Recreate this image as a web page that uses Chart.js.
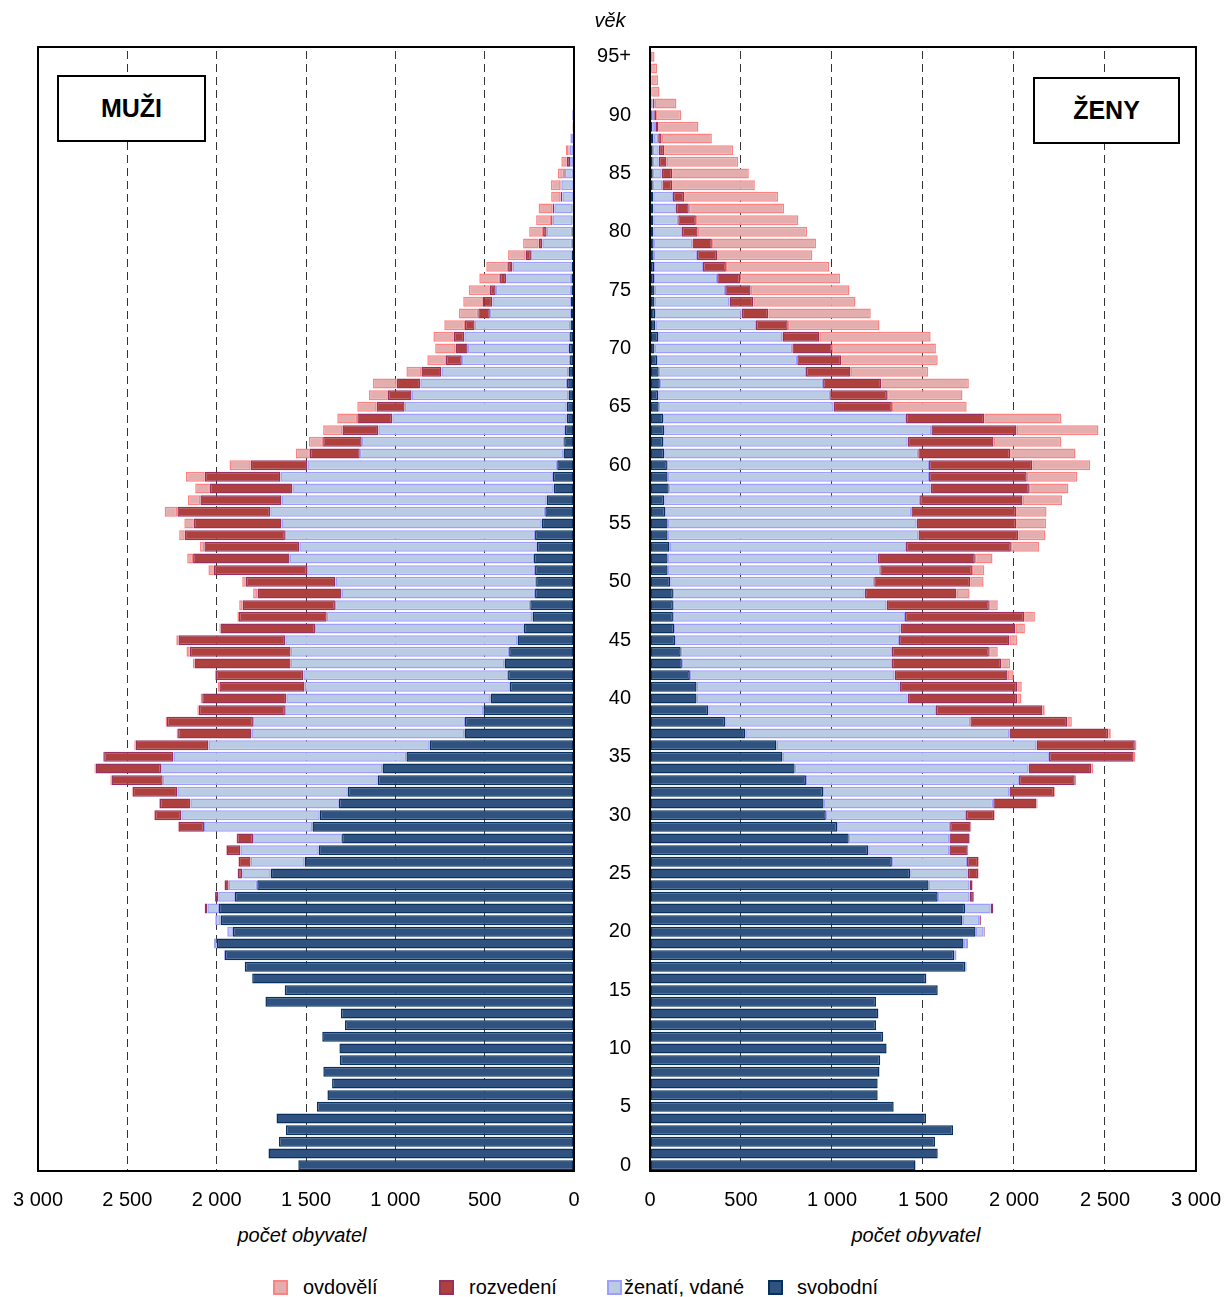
<!DOCTYPE html>
<html lang="cs">
<head>
<meta charset="utf-8">
<title>Obyvatelstvo podle věku a rodinného stavu</title>
<script src="https://cdn.jsdelivr.net/npm/chart.js@4.4.1/dist/chart.umd.min.js"></script>
<style>
  html, body { margin: 0; padding: 0; background: #fff; }
  #page { position: relative; width: 1227px; height: 1297px; overflow: hidden;
          font-family: "Liberation Sans", Arial, sans-serif; color: #000; }
  canvas { position: absolute; top: 0; }
  #leftChart { left: 0; }
  #rightChart { left: 575px; }
  .box { position: absolute; border: 2px solid #000; box-sizing: border-box; background: #fff;
         font-weight: bold; font-size: 25px; display: flex; align-items: center; justify-content: center; }
  .axisTitle { position: absolute; font-style: italic; font-size: 20px; text-align: center; }
  .legendItem { position: absolute; top: 1275px; font-size: 20px; line-height: 24px; white-space: nowrap; }
  .swatch { position: absolute; top: 1280px; width: 15px; height: 15px; box-sizing: border-box; border: 2px solid; }
</style>
</head>
<body>
<div id="page">
  <canvas id="leftChart" width="600" height="1216"></canvas>
  <canvas id="rightChart" width="663" height="1216"></canvas>

  <div class="box" style="left:57px; top:75px; width:149px; height:67px;">MUŽI</div>
  <div class="box" style="left:1033px; top:77px; width:147px; height:67px;">ŽENY</div>

  <div class="axisTitle" style="left:580px; top:9px; width:60px;">věk</div>
  <div class="axisTitle" style="left:202px; top:1224px; width:200px;">počet obyvatel</div>
  <div class="axisTitle" style="left:816px; top:1224px; width:200px;">počet obyvatel</div>

  <div class="swatch" style="left:273px; background:#E4AEAE; border-color:#FF8282;"></div>
  <div class="legendItem" style="left:303px;">ovdovělí</div>
  <div class="swatch" style="left:439px; background:#AE403D; border-color:#953060;"></div>
  <div class="legendItem" style="left:469px;">rozvedení</div>
  <div class="swatch" style="left:607px; background:#B9CCE4; border-color:#9E9EFF;"></div>
  <div class="legendItem" style="left:624px;">ženatí, vdané</div>
  <div class="swatch" style="left:768px; background:#2F5280; border-color:#08305E;"></div>
  <div class="legendItem" style="left:797px;">svobodní</div>
</div>

<script>
// age categories 0 .. 94, 95+
const ageLabels = Array.from({ length: 96 }, (_, i) => (i === 95 ? '95+' : String(i)));
const xTicks = [0, 500, 1000, 1500, 2000, 2500, 3000];

// MUŽI (index = age)
const muziSvobodni = [
  1543, 1710, 1651, 1612, 1665, 1439, 1380, 1354, 1403, 1311,
  1313, 1409, 1282, 1305, 1727, 1619, 1801, 1842, 1954, 2000,
  1909, 1978, 1987, 1898, 1773, 1698, 1508, 1429, 1298, 1464,
  1423, 1316, 1266, 1098, 1072, 938, 808, 613, 610, 507,
  467, 359, 369, 389, 363, 316, 281, 232, 245, 218,
  212, 218, 224, 208, 218, 181, 161, 153, 114, 118,
  94, 59, 55, 51, 41, 41, 31, 39, 31, 22,
  29, 22, 20, 17, 17, 15, 15, 12, 12, 10,
  10, 8, 8, 6, 6, 5, 4, 3, 3, 2,
  2, 0, 0, 0, 0, 0
];
const muziZenati = [
  0, 0, 0, 0, 0, 0, 0, 0, 0, 0,
  0, 0, 0, 0, 0, 0, 0, 2, 5, 15,
  31, 27, 65, 93, 160, 159, 302, 438, 498, 607,
  775, 831, 954, 1204, 1239, 1304, 1238, 1192, 1187, 1111,
  1143, 1149, 1146, 1197, 1223, 1300, 1168, 1152, 1093, 1083,
  1123, 1276, 1368, 1329, 1400, 1456, 1539, 1484, 1462, 1525,
  1398, 1140, 1133, 1044, 976, 907, 878, 821, 711, 606,
  566, 592, 536, 454, 440, 423, 364, 332, 229, 167,
  143, 112, 102, 59, 65, 46, 18, 22, 17, 2,
  8, 0, 0, 0, 0, 0
];
const muziRozvedeni = [
  0, 0, 0, 0, 0, 0, 0, 0, 0, 0,
  0, 0, 0, 0, 0, 0, 0, 0, 0, 0,
  2, 3, 15, 18, 23, 25, 67, 78, 90, 143,
  147, 171, 250, 287, 367, 388, 408, 411, 481, 482,
  471, 477, 489, 538, 565, 598, 530, 491, 517, 470,
  502, 522, 540, 532, 561, 491, 520, 454, 462, 424,
  318, 279, 216, 201, 196, 157, 133, 133, 112, 89,
  68, 59, 54, 65, 53, 33, 35, 25, 30, 21,
  20, 8, 10, 10, 4, 4, 19, 5, 0, 4,
  0, 0, 0, 0, 0, 0
];
const muziOvdoveli = [
  0, 0, 0, 0, 0, 0, 0, 0, 0, 0,
  0, 0, 0, 0, 0, 0, 0, 0, 0, 0,
  0, 0, 0, 1, 1, 2, 3, 3, 3, 4,
  5, 5, 5, 6, 6, 6, 7, 8, 8, 8,
  9, 9, 6, 10, 18, 12, 6, 9, 19, 25,
  20, 30, 33, 24, 31, 53, 71, 70, 82, 105,
  118, 79, 80, 108, 112, 108, 106, 132, 84, 104,
  114, 114, 116, 108, 110, 118, 116, 122, 98, 87,
  78, 84, 78, 53, 55, 35, 30, 15, 2, 0,
  0, 0, 0, 0, 0, 0
];

// ŽENY (index = age)
const zenySvobodne = [
  1459, 1581, 1566, 1665, 1517, 1339, 1251, 1251, 1261, 1265,
  1300, 1281, 1242, 1255, 1242, 1581, 1517, 1732, 1672, 1723,
  1789, 1717, 1732, 1581, 1531, 1430, 1329, 1199, 1092, 1028,
  966, 954, 951, 857, 795, 728, 695, 524, 413, 320,
  256, 256, 219, 175, 169, 138, 132, 126, 126, 126,
  111, 97, 97, 107, 97, 97, 83, 78, 103, 97,
  93, 78, 72, 78, 72, 48, 45, 54, 48, 39,
  25, 45, 30, 28, 25, 25, 22, 22, 20, 20,
  18, 18, 18, 18, 15, 15, 15, 15, 19, 12,
  10, 5, 3, 2, 2, 2
];
const zenyVdane = [
  0, 0, 0, 0, 0, 0, 0, 0, 0, 0,
  0, 0, 0, 0, 0, 0, 3, 8, 12, 19,
  44, 93, 140, 175, 225, 316, 413, 446, 553, 621,
  770, 932, 1024, 1170, 1285, 1464, 1429, 1451, 1347, 1251,
  1160, 1116, 1125, 1154, 1160, 1230, 1245, 1275, 1174, 1054,
  1121, 1168, 1154, 1299, 1378, 1368, 1353, 1406, 1439, 1436,
  1440, 1396, 1344, 1468, 1334, 961, 945, 897, 809, 770,
  757, 683, 552, 476, 412, 388, 347, 269, 238, 213,
  157, 137, 124, 108, 53, 49, 33, 33, 26, 17,
  13, 9, 5, 3, 2, 1
];
const zenyRozvedene = [
  0, 0, 0, 0, 0, 0, 0, 0, 0, 0,
  0, 0, 0, 0, 0, 0, 0, 0, 0, 4,
  6, 8, 14, 23, 16, 58, 62, 101, 111, 113,
  156, 238, 246, 307, 345, 466, 540, 543, 533, 586,
  602, 646, 621, 601, 533, 607, 631, 655, 562, 504,
  528, 504, 534, 577, 549, 547, 576, 563, 540, 537,
  568, 505, 472, 468, 431, 320, 312, 320, 245, 242,
  217, 203, 175, 146, 131, 140, 126, 126, 111, 107,
  87, 97, 71, 62, 54, 58, 43, 30, 19, 16,
  10, 11, 4, 2, 2, 1
];
const zenyOvdovele = [
  0, 0, 0, 0, 0, 0, 0, 0, 0, 0,
  0, 0, 0, 0, 0, 0, 0, 0, 0, 0,
  0, 0, 0, 1, 2, 3, 4, 3, 3, 4,
  4, 6, 5, 8, 10, 9, 9, 14, 25, 12,
  23, 25, 33, 49, 49, 43, 52, 59, 49, 72,
  73, 68, 97, 155, 149, 165, 167, 217, 217, 278,
  318, 359, 372, 450, 423, 411, 415, 481, 427, 530,
  572, 611, 504, 563, 561, 543, 549, 567, 523, 572,
  601, 563, 524, 516, 454, 421, 394, 378, 276, 221,
  138, 120, 40, 38, 33, 21
];

const seriesStyle = {
  svobodni: { bg: '#2F5280', border: '#08305E' },
  zenati: { bg: '#B9CCE4', border: '#9E9EFF' },
  rozvedeni: { bg: '#AE403D', border: '#953060' },
  ovdoveli: { bg: '#E4AEAE', border: '#FF8282' }
};

const tickFont = { family: '"Liberation Sans", Arial, sans-serif', size: 20 };

// "3 000" style numbers
function formatTick(v) {
  if (v >= 1000) return Math.floor(v / 1000) + ' ' + String(v % 1000).padStart(3, '0');
  return String(v);
}

// black box around the plot area (frame sits a little above the first category)
const framePlugin = {
  id: 'frame',
  afterDraw(chart) {
    const { ctx, chartArea: a } = chart;
    ctx.save();
    ctx.strokeStyle = '#000';
    ctx.lineWidth = 2;
    ctx.strokeRect(a.left, a.top - 4, a.right - a.left, a.bottom - a.top + 4);
    ctx.restore();
  }
};

function bar(label, data, style) {
  return {
    label: label,
    data: data,
    backgroundColor: style.bg,
    borderColor: style.border,
    borderWidth: 1.5,
    borderSkipped: false,
    categoryPercentage: 1.0,
    barPercentage: 0.86
  };
}

function xScale(reverse) {
  return {
    stacked: true,
    reverse: reverse,
    min: 0,
    max: 3000,
    afterBuildTicks: (axis) => { axis.ticks = xTicks.map((v) => ({ value: v })); },
    afterFit: (axis) => { axis.height = 45; },
    ticks: { font: tickFont, color: '#000', padding: 17, maxRotation: 0, callback: (v) => formatTick(v) },
    grid: {
      drawTicks: false,
      lineWidth: 1,
      color: (c) => (c.tick && (c.tick.value === 0 || c.tick.value === 3000) ? 'rgba(0,0,0,0)' : '#333')
    },
    border: { display: false, dash: [8, 5] }
  };
}

// Muži (left, reversed axis)
const ctxLeft = document.getElementById('leftChart').getContext('2d');
const leftChart = new Chart(ctxLeft, {
  type: 'bar',
  data: {
    labels: ageLabels,
    datasets: [
      bar('svobodní', muziSvobodni, seriesStyle.svobodni),
      bar('ženatí', muziZenati, seriesStyle.zenati),
      bar('rozvedení', muziRozvedeni, seriesStyle.rozvedeni),
      bar('ovdovělí', muziOvdoveli, seriesStyle.ovdoveli)
    ]
  },
  options: {
    indexAxis: 'y',
    responsive: false,
    animation: false,
    layout: { padding: { left: 38, right: 26, top: 51, bottom: 0 } },
    scales: {
      x: xScale(true),
      y: { stacked: true, reverse: true, display: false }
    },
    plugins: { legend: { display: false }, tooltip: { enabled: false } }
  },
  plugins: [framePlugin]
});

// Ženy (right, age labels in the middle)
const ctxRight = document.getElementById('rightChart').getContext('2d');
const rightChart = new Chart(ctxRight, {
  type: 'bar',
  data: {
    labels: ageLabels,
    datasets: [
      bar('svobodné', zenySvobodne, seriesStyle.svobodni),
      bar('vdané', zenyVdane, seriesStyle.zenati),
      bar('rozvedené', zenyRozvedene, seriesStyle.rozvedeni),
      bar('ovdovělé', zenyOvdovele, seriesStyle.ovdoveli)
    ]
  },
  options: {
    indexAxis: 'y',
    responsive: false,
    animation: false,
    layout: { padding: { left: 0, right: 30, top: 51, bottom: 0 } },
    scales: {
      x: xScale(false),
      y: {
        stacked: true,
        reverse: true,
        position: 'left',
        afterFit: (axis) => { axis.width = 75; },
        grid: { display: false, drawTicks: false },
        border: { display: false },
        ticks: {
          autoSkip: false,
          font: tickFont,
          color: '#000',
          padding: 19,
          callback: (value, index) => (index % 5 === 0 ? ageLabels[index] : '')
        }
      }
    },
    plugins: { legend: { display: false }, tooltip: { enabled: false } }
  },
  plugins: [framePlugin]
});
</script>
</body>
</html>
